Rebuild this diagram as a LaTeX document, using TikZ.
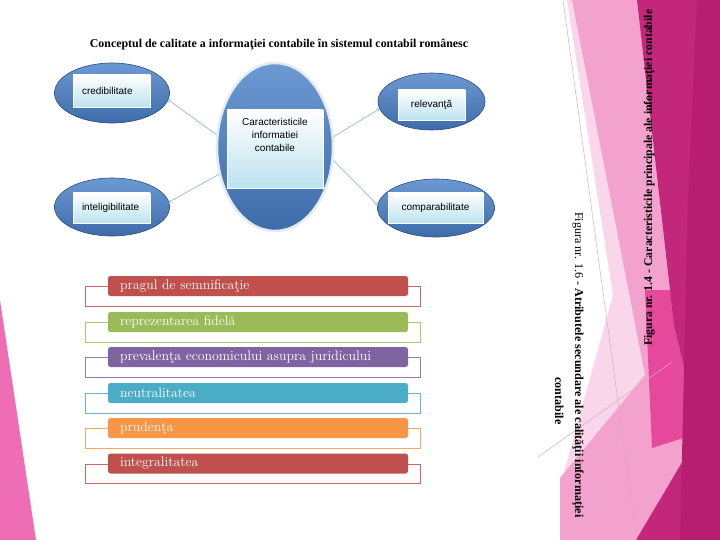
\documentclass[tikz,border=0pt]{standalone}
\usepackage{fontspec}
\newfontfamily\timesfont{Liberation Serif}
\newfontfamily\arialfont{Liberation Sans}
\usepackage{tikz}
\usetikzlibrary{shapes.geometric}

\definecolor{slidepink}{HTML}{EE6DB5}
\definecolor{palepink}{HTML}{F9D6EA}
\definecolor{midpink}{HTML}{F3A2CE}
\definecolor{hotpink}{HTML}{E6489C}
\definecolor{deepmagenta}{HTML}{C2277B}
\definecolor{darkmagenta}{HTML}{B81E70}
\definecolor{pinkline}{HTML}{E3A6C9}
\definecolor{bluetop}{HTML}{6C99D2}
\definecolor{bluebot}{HTML}{3E6CA9}
\definecolor{blueedge}{HTML}{2B4D7A}
\definecolor{ringblue}{HTML}{E3EBF5}
\definecolor{boxbot}{HTML}{BCE2EE}
\definecolor{arrowblue}{HTML}{8FBDD2}
\definecolor{barred}{HTML}{C0504D}
\definecolor{bargreen}{HTML}{9BBB59}
\definecolor{barpurple}{HTML}{8064A2}
\definecolor{barteal}{HTML}{4BACC6}
\definecolor{barorange}{HTML}{F79646}

\tikzset{
  bluebubble/.style={ellipse, inner sep=0pt, top color=bluetop, bottom color=bluebot, draw=blueedge, line width=0.6pt},
  infobox/.style={rectangle, inner sep=0pt, top color=white, bottom color=boxbot, draw=white, line width=0.4pt, font=\arialfont\fontsize{10}{13}\selectfont},
  linkarrow/.style={draw=arrowblue, line width=0.7pt, ->},
  attrbar/.style={rectangle, rounded corners=2.5pt, minimum width=300pt, minimum height=20pt, inner xsep=12pt, inner ysep=0pt, text width=276pt, align=left, text=white, font=\fontsize{13.8}{15}\selectfont},
  attrframe/.style={line width=0.8pt, fill=white}
}

\begin{document}
\begin{tikzpicture}[x=1pt,y=-1pt]
  \useasboundingbox (0,0) rectangle (720,540);
  \fill[white] (0,0) rectangle (720,540);

  % Slide decoration, left and right
  \fill[slidepink] (0,300) -- (36,540) -- (0,540) -- cycle;
  \fill[palepink] (567,0) -- (720,0) -- (720,540) -- (560,540) -- (560,487) -- (613,295) -- cycle;
  \fill[midpink] (572,0) -- (720,0) -- (720,540) -- (560,540) -- (560,478) -- (645,375) -- cycle;
  \fill[hotpink] (645,290) -- (700,290) -- (702,432) -- (652,448) -- cycle;
  \fill[deepmagenta] (637,0) -- (720,0) -- (720,540) -- (636,540) -- (700,432) -- (674,325) -- cycle;
  \fill[darkmagenta] (697,0) -- (720,0) -- (720,540) -- (680,540) -- (688,200) -- cycle;
  \draw[pinkline, line width=0.5pt] (563,0) -- (637,540);
  \draw[pinkline, line width=0.5pt] (538,457) -- (672,362);

  % Title
  \node[font=\timesfont\bfseries\fontsize{11.9}{13}\selectfont] (title) at (279,45)
    {Conceptul de calitate a informaţiei contabile în sistemul contabil românesc};

  % Central bubble
  \node[bluebubble, minimum width=116pt, minimum height=168pt, draw=ringblue, line width=2.5pt] (centre) at (275,147) {};
  \node[infobox, minimum width=96pt, minimum height=78pt] (centrebox) at (275,149) {};
  \node[font=\arialfont\fontsize{10}{13}\selectfont, align=center] (centretext) at (275,135)
    {Caracteristicile\\informatiei\\contabile};

  % Outer bubbles
  \node[bluebubble, minimum width=115pt, minimum height=60pt] (cred) at (112,93) {};
  \node[infobox, minimum width=77pt, minimum height=32pt, inner xsep=9pt, text width=59pt, align=left] (credbox) at (111.5,91) {credibilitate};
  \node[bluebubble, minimum width=115pt, minimum height=58pt] (intel) at (112,207) {};
  \node[infobox, minimum width=77pt, minimum height=30pt, inner xsep=9pt, text width=59pt, align=left] (intelbox) at (111.5,208) {inteligibilitate};
  \node[bluebubble, minimum width=107pt, minimum height=57pt] (relev) at (431.5,101.5) {};
  \node[infobox, minimum width=67pt, minimum height=30pt] (relevbox) at (431.5,105) {relevanţă};
  \node[bluebubble, minimum width=117pt, minimum height=58pt] (compar) at (436,208) {};
  \node[infobox, minimum width=95pt, minimum height=30pt] (comparbox) at (435.5,208) {comparabilitate};

  % Links from the centre
  \draw[linkarrow] (centre.168) -- (cred.353);
  \draw[linkarrow] (centre.206) -- (intel.5);
  \draw[linkarrow] (centre.10) -- (relev.188);
  \draw[linkarrow] (centre.347) -- (compar.177);

  % Secondary attributes
  \foreach \i/\yc/\col/\txt in {1/286/barred/pragul de semnificaţie,
                                2/322/bargreen/reprezentarea fidelă,
                                3/357/barpurple/prevalenţa economicului asupra juridicului,
                                4/393/barteal/neutralitatea,
                                5/428/barorange/prudenţa,
                                6/463.5/barred/integralitatea}
  {
    \draw[attrframe, draw=\col!85!white] (85,\yc+0.5) rectangle (420,\yc+20);
    \node[attrbar, fill=\col] (bar\i) at (258,\yc) {\txt};
  }

  % Rotated captions
  \node[rotate=90, anchor=base west, inner sep=0pt, font=\timesfont\bfseries\fontsize{11.8}{14}\selectfont] (capmain) at (652,346)
    {Figura nr. 1.4 - Caracteristicile principale ale informaţiei contabile};
  \node[rotate=-90, anchor=base west, inner sep=0pt, font=\timesfont\fontsize{12.1}{14}\selectfont] (capsecond) at (575,212)
    {Figura nr. 1.6 - \textbf{Atributele secundare ale calităţii informaţiei}};
  \node[rotate=-90, anchor=base, inner sep=0pt, font=\timesfont\bfseries\fontsize{12.1}{14}\selectfont] (capsecondb) at (555,401)
    {contabile};
\end{tikzpicture}
\end{document}
